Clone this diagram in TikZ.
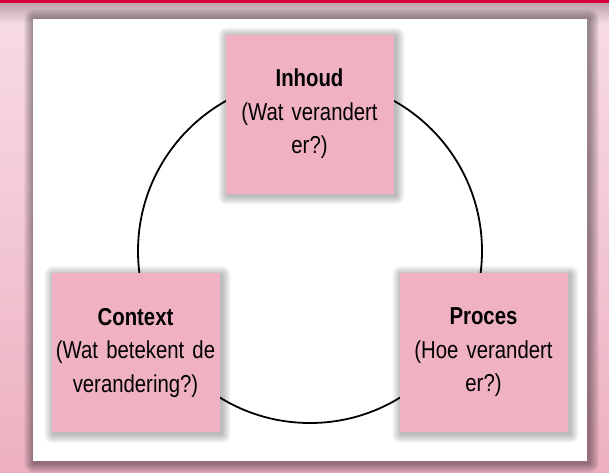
\documentclass[tikz,border=0pt]{standalone}
\usepackage{fontspec}
\setmainfont{Liberation Sans}[FakeStretch=0.83]
\definecolor{BarRed}{RGB}{214,0,62}
\definecolor{PinkTop}{RGB}{248,221,229}
\definecolor{PinkBottom}{RGB}{237,176,193}
\definecolor{BoxPink}{RGB}{240,178,195}
\definecolor{Mauve}{RGB}{180,152,162}
\pgfdeclarelayer{boxes}
\pgfsetlayers{main,boxes}
\tikzset{
  topic/.style={rectangle,fill=BoxPink,minimum width=159pt,minimum height=159pt,inner sep=0pt,
    text width=168pt,align=center,font=\fontsize{24.5}{33.5}\selectfont},
  ring/.style={draw=black,line width=1.8pt},
  haze/.style={fill=black,opacity=.03}
}
% soft shadow behind a named node
\newcommand\softshadow[1]{%
  \foreach \r in {1,...,9}
    \fill[haze,rounded corners=\r pt] ([shift={(2-\r,2-\r)}]#1.north west) rectangle ([shift={(2+\r,2+\r)}]#1.south east);}

\begin{document}
\begin{tikzpicture}[x=1pt,y=-1pt]
  \useasboundingbox (0,0) rectangle (609,472);
  % background and top band
  \shade[top color=PinkTop,bottom color=PinkBottom] (0,0) rectangle (609,472);
  \shade[top color=Mauve,bottom color=PinkTop,opacity=.85] (0,3) rectangle (609,24);
  \fill[BarRed] (0,0) rectangle (609,3);
  \foreach \r in {1,...,10}
    \fill[haze,opacity=.045,rounded corners=\r pt] (34-\r,19-\r) rectangle (589+\r,463+\r);
  \fill[white] (33,19) rectangle (587,461);
  % cycle
  \coordinate (mid) at (310,251);
  \draw[ring] (mid) circle[radius=172];
  \begin{pgfonlayer}{boxes}
    \node[topic] (inhoud) at (309.5,114) {\textbf{Inhoud}\\(Wat verandert\\er?)};
    \node[topic] (context) at (135.5,352.5) {\textbf{Context}\\(Wat betekent de\\verandering?)};
    \node[topic] (proces) at (483.5,352.5) {\textbf{Proces}\\(Hoe verandert\\er?)};
  \end{pgfonlayer}
  \softshadow{inhoud}
  \softshadow{context}
  \softshadow{proces}
\end{tikzpicture}
\end{document}
